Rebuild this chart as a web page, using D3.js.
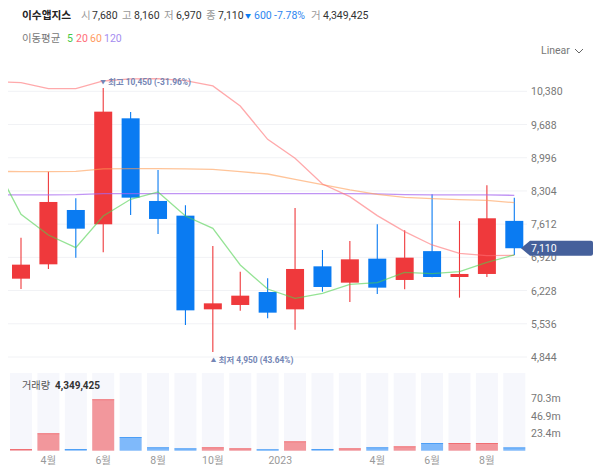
<!DOCTYPE html>
<html lang="ko"><head><meta charset="utf-8">
<script src="https://cdn.jsdelivr.net/npm/d3@7/dist/d3.min.js"></script>
<style>
html,body{margin:0;padding:0;background:#fff;overflow:hidden}
text{font-family:"Noto Sans CJK KR","Noto Sans",sans-serif}
.num{font-family:Roboto,"Noto Sans CJK KR",sans-serif}
</style></head><body><svg id="c" width="600" height="471"></svg>
<script>
// ---- data ----
const months=["22-03","22-04","22-05","22-06","22-07","22-08","22-09","22-10","22-11","22-12","23-01","23-02","23-03","23-04","23-05","23-06","23-07","23-08","23-09"];
const open =[6476,6775,7907,7609,9817,8095,7789,5837,5928,6198,5837,6733,6393,6893,6449,7050,6511,6574,7680];
const high =[7331,8706,8150,10450,9949,8741,8004,7157,6622,6483,7949,7074,7261,7609,7483,8234,7678,8421,8160];
const low  =[6261,6678,6914,7025,7803,7407,5511,4950,5810,5650,5414,6205,5991,6157,6254,6504,6080,6511,6970];
const close=[6768,8074,7518,9956,8164,7720,5816,5962,6122,5768,6678,6303,6879,6289,6914,6511,6574,7734,7110];
const volume=[2.2,23.3,2.2,69,18.4,4.5,3.1,4.5,3.1,1.8,12.5,2.2,3.1,4.5,5.8,10.3,10.3,10.3,4.35];
// moving averages: the first value belongs to the month before the first candle
const ma5  =[8907,7817,7386,7122,7782,8130,8282,7782,7525,6761,6261,6067,6171,6358,6393,6608,6581,6622,6817,6970];
const ma20 =[10581,10561,10436,10436,10595,10637,10644,10602,10491,10074,9380,8984,8449,8185,7789,7456,7178,7004,6956,6963];
const ma60 =[8713,8706,8706,8713,8762,8769,8769,8762,8755,8706,8657,8546,8435,8324,8234,8171,8143,8123,8109,8060];
const ma120=[8220,8220,8220,8227,8248,8248,8248,8248,8248,8248,8248,8248,8248,8248,8241,8227,8220,8220,8220,8213];
const priceTicks=[10380,9688,8996,8304,7612,6920,6228,5536,4844];
const volumeTicks=[70.3,46.9,23.4];
const monthLabels={"22-04":"4월","22-06":"6월","22-08":"8월","22-10":"10월","23-01":"2023","23-04":"4월","23-06":"6월","23-08":"8월"};
const maPeriods=["5","20","60","120"];
const header=[["시","7,680"],["고","8,160"],["저","6,970"],["종","7,110"]];

// ---- style ----
const RED="#ef393c",BLUE="#0a7bf2";
const svg=d3.select("#c");
const x=d3.scalePoint().domain(months).range([21,514.3]);
const step=x.step();
const y=d3.scaleLinear().domain([4844,10380]).range([357,91.3]);
const v=d3.scaleLinear().domain([0,104.4]).range([450.7,373]);
const col=i=>close[i]>=open[i]?RED:BLUE;

// header
const T=(s,px,py,o={})=>svg.append("text").attr("x",px).attr("y",py).attr("font-size",o.size||10.5)
  .attr("font-weight",o.w||400).attr("fill",o.c||"#333").attr("text-anchor",o.a||"start").text(s);
T("이수앱지스",22,19,{w:700,c:"#222",size:10.7});
const hx=[[81,92],[122,134],[164,176],[206,218]];
header.forEach((h,i)=>{T(h[0],hx[i][0],19,{c:"#999"});T(h[1],hx[i][1],19,{c:"#333"}).attr("class","num");});
T("▼",245,18,{c:BLUE,size:6});
T("600",254,19,{c:"#2d86f0"}).attr("class","num");
T("-7.78%",274,19,{c:"#2d86f0"}).attr("class","num");
T("거",311,19,{c:"#999"});
T("4,349,425",323,19,{c:"#333"}).attr("class","num");
T("이동평균",22,42,{c:"#777",size:10.4});
const maCols=["#45c945","#ff6b78","#ff9b62","#a58cf0"];
[67,76,90,104].forEach((px,i)=>T(maPeriods[i],px,42,{c:maCols[i]}).attr("class","num"));
T("Linear",541,54,{c:"#777",size:10.5}).attr("class","num");
svg.append("path").attr("d","M575 49l4 4l4-4").attr("fill","none").attr("stroke","#666");

// grid + price axis
svg.append("g").selectAll("line").data(priceTicks).join("line")
  .attr("x1",8).attr("x2",527).attr("y1",d=>y(d)).attr("y2",d=>y(d)).attr("stroke","#f1f2f5");
svg.append("g").selectAll("text").data(priceTicks).join("text").attr("class","num")
  .attr("x",531).attr("y",d=>y(d)+4).attr("font-size",10.5).attr("fill","#777").text(d3.format(","));

// candles
const g=svg.append("g");
g.selectAll(".w").data(months).join("line")
  .attr("x1",d=>x(d)).attr("x2",d=>x(d))
  .attr("y1",(d,i)=>y(high[i])).attr("y2",(d,i)=>y(low[i]))
  .attr("stroke",(d,i)=>col(i)).attr("stroke-width",1.1);
g.selectAll("rect").data(months).join("rect")
  .attr("x",d=>x(d)-9).attr("width",18)
  .attr("y",(d,i)=>y(Math.max(open[i],close[i])))
  .attr("height",(d,i)=>Math.max(1.5,Math.abs(y(open[i])-y(close[i]))))
  .attr("fill",(d,i)=>col(i));

// moving averages
svg.append("clipPath").attr("id","cp").append("rect").attr("x",8).attr("y",60).attr("width",519).attr("height",310);
const line=d3.line().x(d=>d[0]).y(d=>y(d[1]));
const pts=a=>a.map((val,i)=>[i===0?x(months[0])-step:x(months[i-1]),val]);
[[ma120,"#a566f0",.7],[ma60,"#ff9d55",.6],[ma20,"#ff6f73",.6],[ma5,"#4fd04f",.6]].forEach(([a,c,o])=>{
  svg.append("path").attr("clip-path","url(#cp)").attr("d",line(pts(a)))
    .attr("fill","none").attr("stroke",c).attr("stroke-opacity",o).attr("stroke-width",1.3);
});

// hi / lo annotations
const ANN="#7486b5";
const iHi=high.indexOf(d3.max(high)),iLo=low.indexOf(d3.min(low));
const note=(mark,s,px,py)=>{
  const t=T("",px,py,{c:ANN,size:8.4,w:700}).attr("class","num");
  t.append("tspan").attr("font-size",5.5).attr("dy",-1).text(mark);
  t.append("tspan").attr("dx",2.5).attr("dy",1).text(s);
};
note("▼","최고 10,450 (-31.96%)",x(months[iHi])-3,y(high[iHi])-3);
note("▲","최저 4,950 (43.64%)",x(months[iLo])-2,y(low[iLo])+11);

// last price tag
const ty=y(close[close.length-1]);
svg.append("path").attr("d",`M521 ${ty}L530 ${ty-7.5}H591a2 2 0 0 1 2 2V${ty+5.5}a2 2 0 0 1 -2 2H530Z`).attr("fill","#45609b");
T("7,110",531,ty+4,{c:"#fff",size:10.5}).attr("class","num");

// volume
const vb=svg.append("g");
vb.selectAll(".bg").data(months).join("rect").attr("x",d=>x(d)-11).attr("width",22)
  .attr("y",v(104.4)).attr("height",v(0)-v(104.4)).attr("fill","#f6f7fc");
const vc=i=>col(i)===RED?"#f2979c":"#7fb9fa";
vb.selectAll(".b").data(months).join("rect").attr("x",d=>x(d)-11).attr("width",22)
  .attr("y",(d,i)=>v(volume[i])).attr("height",(d,i)=>v(0)-v(volume[i])).attr("fill",(d,i)=>vc(i));
vb.selectAll(".t").data(months).join("rect").attr("x",d=>x(d)-11).attr("width",22)
  .attr("y",(d,i)=>v(volume[i])).attr("height",.8).attr("fill",(d,i)=>col(i)).attr("opacity",.55);
svg.append("g").selectAll("text").data(volumeTicks).join("text").attr("class","num")
  .attr("x",531).attr("y",d=>v(d)+4).attr("font-size",10.5).attr("fill","#777").text(d=>d+"m");
T("거래량",22,389,{c:"#555",size:10.2});
T("4,349,425",55,389,{c:"#333",size:10,w:700}).attr("class","num");

// month labels
svg.append("g").selectAll("text").data(months.filter(m=>monthLabels[m])).join("text").attr("class","num")
  .attr("x",d=>monthLabels[d]==="2023"?x(d)-3:x(d)).attr("y",464)
  .attr("text-anchor",d=>monthLabels[d]==="2023"?"end":"middle")
  .attr("font-size",10.5).attr("fill","#999").text(d=>monthLabels[d]);
</script></body></html>
